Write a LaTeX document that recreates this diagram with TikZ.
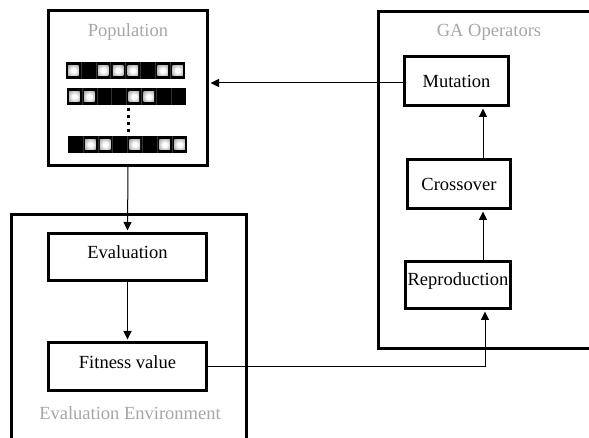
\documentclass[tikz,border=0pt]{standalone}
\usepackage{fontspec}
\setmainfont{Liberation Serif}
\usetikzlibrary{arrows.meta,calc}

% lit gene: bright centre fading to grey at the rim
\pgfdeclareradialshading{genelight}{\pgfpoint{0bp}{0bp}}{%
  color(0bp)=(white); color(10bp)=(white); color(50bp)=(black!55); color(72bp)=(black!70)}

\tikzset{
  frame/.style={draw, line width=3pt},
  txt/.style={font=\fontsize{18.5}{22}\selectfont},
  opbox/.style={txt, draw, line width=3pt, inner sep=0pt, text height=13pt, text depth=0pt},
  grouplabel/.style={txt, text=black!35, inner sep=0pt},
  flow/.style={line width=1pt, -{Triangle[length=8.5pt,width=8pt]}, shorten >=1.5pt},
  dotcol/.style={line width=3pt, dash pattern=on 3pt off 4pt},
  litgene/.style={shading=genelight},
}

% one chromosome: black bar of eight genes, lit genes drawn as shaded squares
\newcommand\genebar[3]{%
  \fill[black] (#1,#2) rectangle ++(119,17);
  \foreach \k in {1,...,7}{%
    \draw[black!80, line width=0.5pt] (#1+\k*14.875,#2) -- ++(0,17);
  }
  \foreach \b [count=\i] in {#3}{%
    \pgfmathsetmacro\cx{#1+(\i-0.5)*14.875}%
    \pgfmathsetmacro\cy{#2+8.5}%
    \ifnum\b=1
      \shade[litgene] (\cx-5.2,\cy-5.2) rectangle (\cx+5.2,\cy+5.2);
    \fi
  }%
}

\begin{document}
\begin{tikzpicture}[x=1pt,y=-1pt]
\useasboundingbox (0,0) rectangle (589,438);

% outer group frames, running off the page edges
\begin{scope}
  \clip (0,0) rectangle (589,438);
  \draw[frame] (378.5,11.5) rectangle (600,348.5);
  \draw[frame] (11.5,214.5) rectangle (246.5,460);
\end{scope}

% population with its chromosomes
\node[frame, minimum width=159pt, minimum height=155pt, inner sep=0pt] (pop) at (128,88) {};
\node[grouplabel] (poplabel) at (128,32) {Population};
\genebar{66}{62}{1,0,1,1,1,0,1,1}
\genebar{67}{88}{1,1,0,0,1,1,0,0}
\genebar{68}{136}{0,1,1,0,1,0,1,1}
\coordinate (dtop) at (128,108);
\coordinate (dbot) at (128,134);
\draw[dotcol] (dtop) -- (dbot);

% GA operators
\node[grouplabel] (galabel) at (489,32) {GA Operators};
\node[opbox, minimum width=104pt, minimum height=49pt] (mut) at (456.5,81) {Mutation};
\node[opbox, minimum width=103pt, minimum height=49pt] (cross) at (459,184) {Crossover};
\node[opbox, minimum width=105pt, minimum height=47pt, text depth=12.8pt] (repro) at (458,285) {Reproduction};

% evaluation environment
\node[opbox, minimum width=158pt, minimum height=47pt, text depth=10.4pt] (eval) at (127.5,257) {Evaluation};
\node[opbox, minimum width=158pt, minimum height=48pt, text depth=9.4pt] (fit) at (127.5,366.5) {Fitness value};
\node[grouplabel] (envlabel) at (130,413) {Evaluation Environment};

% flow of the algorithm
\coordinate (rail) at (483,0);
\coordinate (rail2) at (485,0);
\draw[flow] (pop.south) -- (eval.north);
\draw[flow] (eval.south) -- (fit.north);
\draw[flow] ($(mut.west)+(0,2)$) -- ($(pop.east |- mut.west)+(0,2)$);
\draw[flow] (cross.north -| rail) -- (mut.south -| rail);
\draw[flow] (repro.north -| rail) -- (cross.south -| rail);
\draw[flow] (fit.east) -| (repro.south -| rail2);
\end{tikzpicture}
\end{document}
